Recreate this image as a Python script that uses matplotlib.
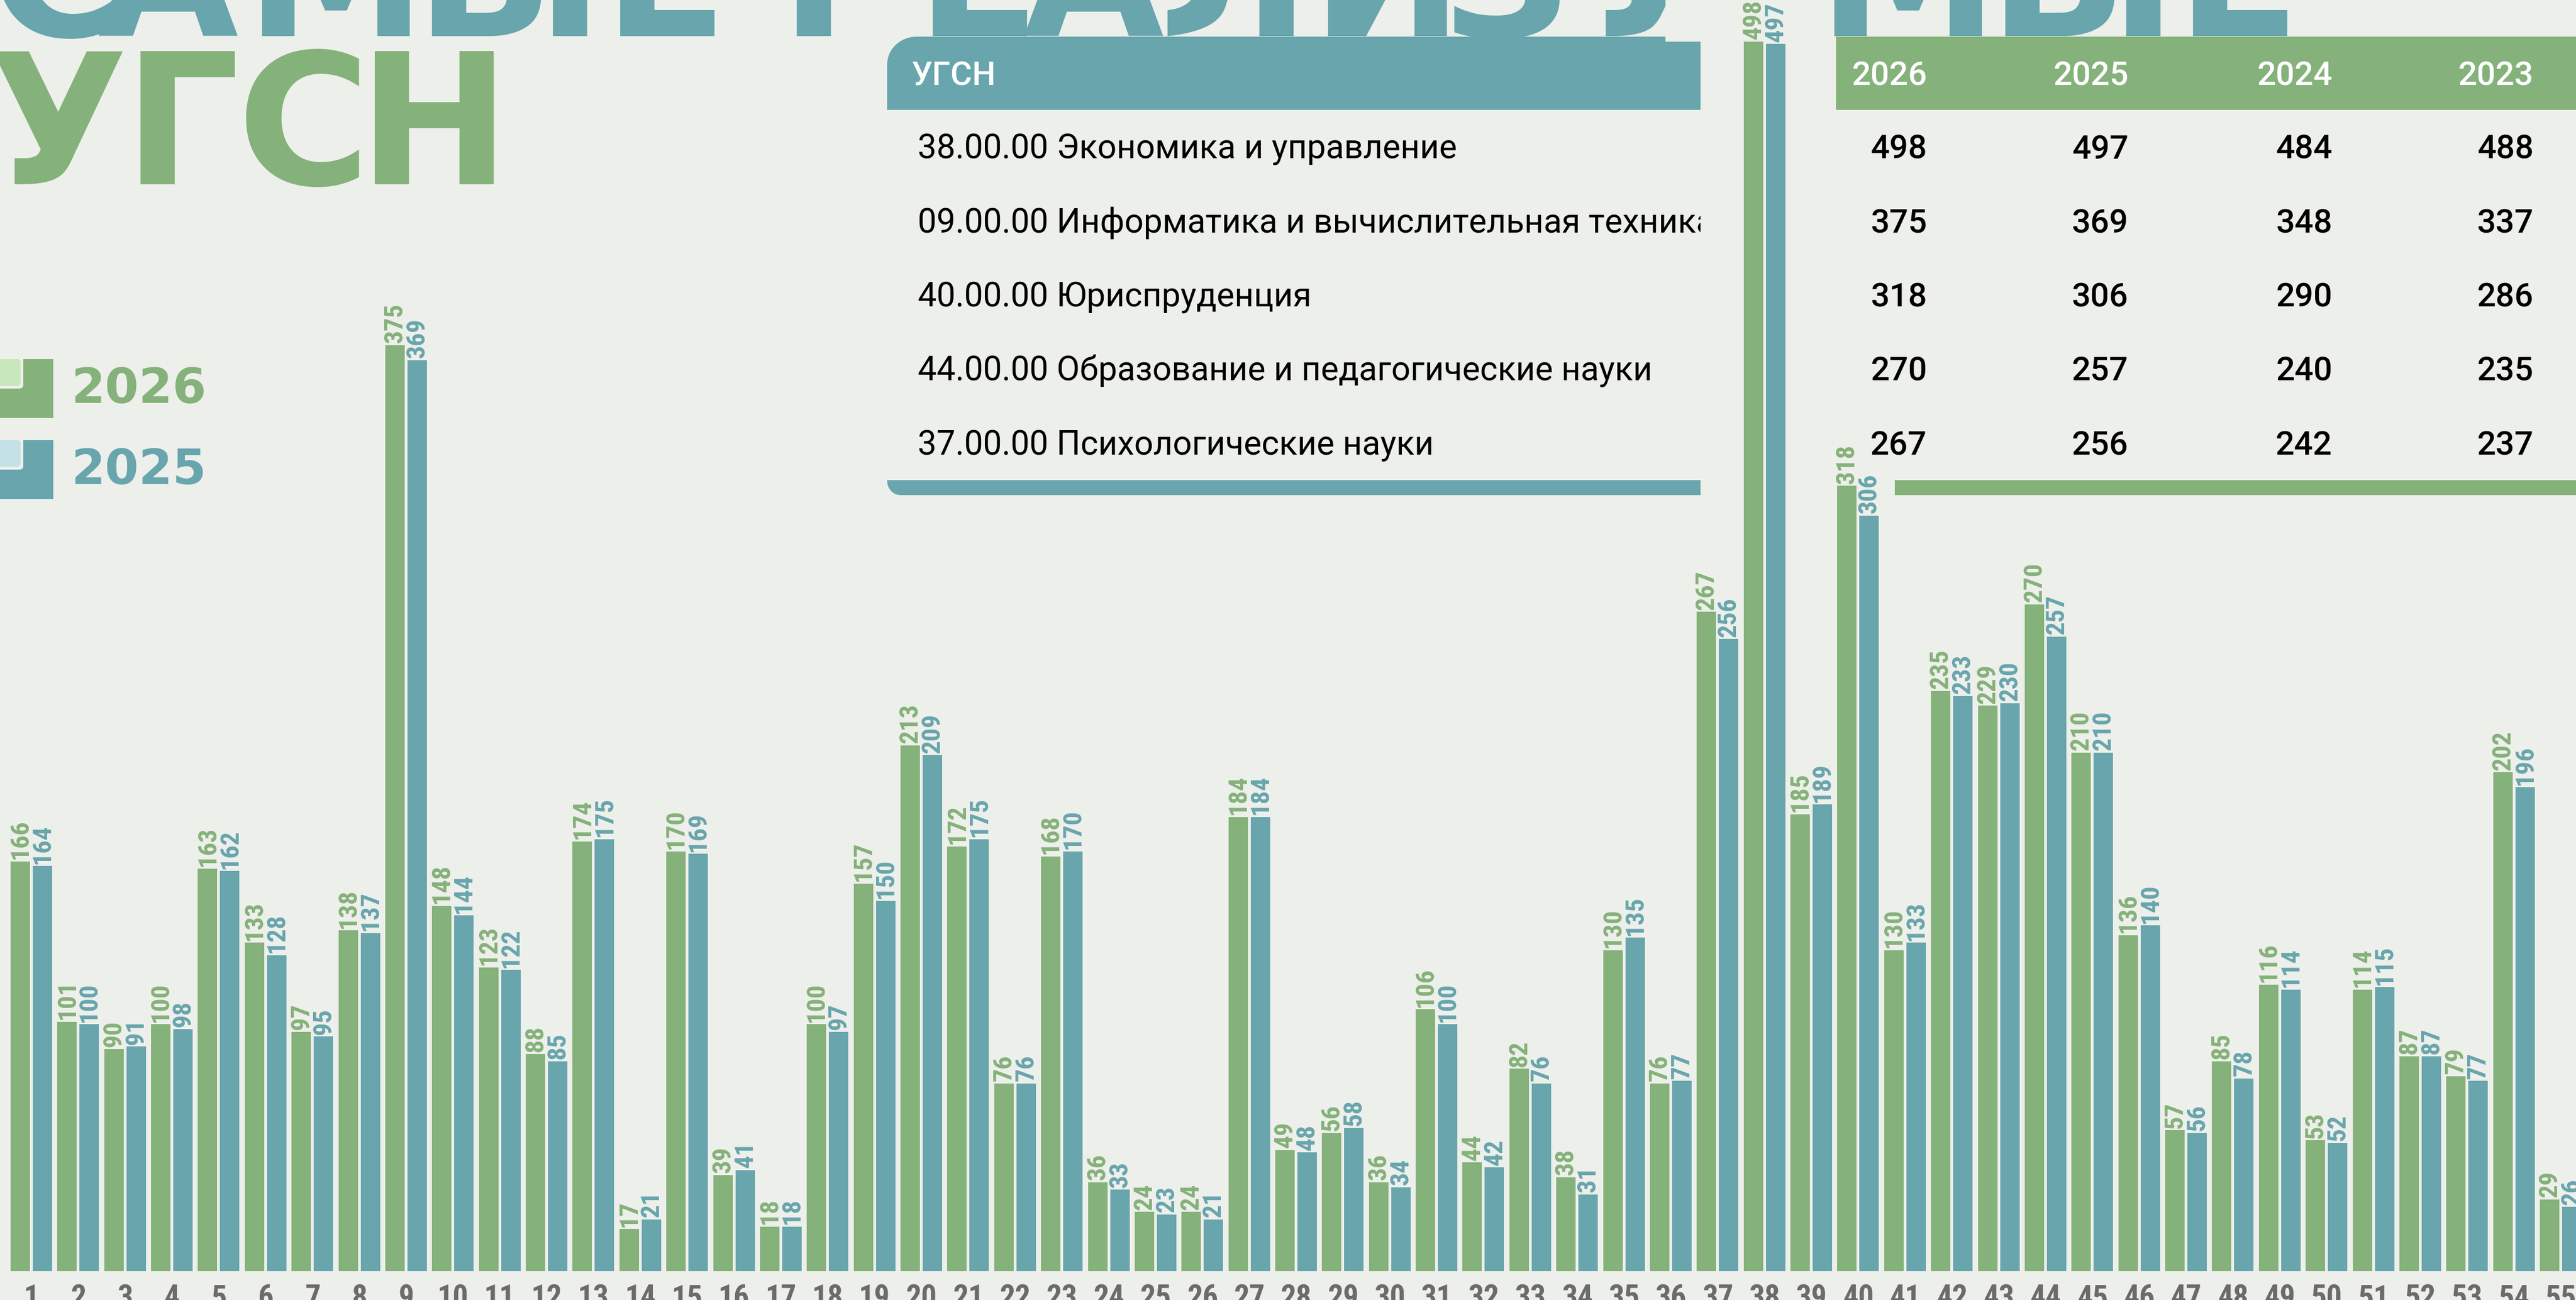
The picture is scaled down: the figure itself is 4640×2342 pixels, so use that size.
import matplotlib
matplotlib.use('Agg')
import matplotlib.pyplot as plt
from matplotlib import font_manager
from matplotlib.patches import Rectangle, FancyBboxPatch, Polygon
from matplotlib.transforms import Bbox, TransformedBbox
import numpy as np

## DATA
groups = list(range(1, 56))
y2026 = [166, 101, 90, 100, 163, 133, 97, 138, 375, 148, 123, 88, 174, 17, 170, 39, 18, 100, 157, 213,
         172, 76, 168, 36, 24, 24, 184, 49, 56, 36, 106, 44, 82, 38, 130, 76, 267, 498, 185, 318,
         130, 235, 229, 270, 210, 136, 57, 85, 116, 53, 114, 87, 79, 202, 29]
y2025 = [164, 100, 91, 98, 162, 128, 95, 137, 369, 144, 122, 85, 175, 21, 169, 41, 18, 97, 150, 209,
         175, 76, 170, 33, 23, 21, 184, 48, 58, 34, 100, 42, 76, 31, 135, 77, 256, 497, 189, 306,
         133, 233, 230, 257, 210, 140, 56, 78, 114, 52, 115, 87, 77, 196, 26]

series_names = ['2026', '2025']

top_ugsn = ['38.00.00 Экономика и управление',
            '09.00.00 Информатика и вычислительная техника',
            '40.00.00 Юриспруденция',
            '44.00.00 Образование и педагогические науки',
            '37.00.00 Психологические науки']
table_years = ['2026', '2025', '2024', '2023']
top_2026 = [498, 375, 318, 270, 267]
top_2025 = [497, 369, 306, 257, 256]
top_2024 = [484, 348, 290, 240, 242]
top_2023 = [488, 337, 286, 235, 237]

title_1 = 'САМЫЕ РЕАЛИЗУЕМЫЕ'
title_2 = 'УГСН'

GREEN = '#85B17A'
TEAL = '#68A5AD'
LGREEN = '#C8E7BB'
LTEAL = '#C3E0E5'
BG = '#EDEFEA'
GREY = '#6B6B6B'

# pick a narrow face for the small numbers if one is installed
installed = {f.name for f in font_manager.fontManager.ttflist}
narrow = None
for name in ['Liberation Sans Narrow', 'Roboto Condensed', 'Open Sans Condensed',
             'DejaVu Sans Condensed', 'Noto Sans Condensed']:
    if name in installed:
        narrow = name
        break
if narrow:
    num_family = [narrow, 'DejaVu Sans']
    lab_size, tick_size = 17, 20
else:
    num_family = ['Roboto', 'DejaVu Sans']
    lab_size, tick_size = 13.5, 16

W, H = 4640, 2342
fig = plt.figure(figsize=(W / 200, H / 200), dpi=200, facecolor=BG)

# overlay in pixel coordinates (y down)
ov = fig.add_axes([0, 0, 1, 1])
ov.set_xlim(0, W)
ov.set_ylim(H, 0)
ov.axis('off')

# bar axes
ax = fig.add_axes([0, 0, 1, 1])
ax.patch.set_alpha(0)
ax.set_xlim(0.3303, 55.326)
ax.set_ylim(-11.69, 514.8)
ax.axis('off')


def rounded_poly(x0, y0, w, h, tl=(0, 0), bl=(0, 0), color='k'):
    pts = []
    if tl[0]:
        rx, ry = tl
        for a in np.linspace(np.pi, 1.5 * np.pi, 16):
            pts.append((x0 + rx + rx * np.cos(a), y0 + ry + ry * np.sin(a)))
    else:
        pts.append((x0, y0))
    pts.append((x0 + w, y0))
    pts.append((x0 + w, y0 + h))
    if bl[0]:
        rx, ry = bl
        for a in np.linspace(0.5 * np.pi, np.pi, 16):
            pts.append((x0 + rx + rx * np.cos(a), y0 + h - ry + ry * np.sin(a)))
    else:
        pts.append((x0, y0 + h))
    ov.add_patch(Polygon(pts, closed=True, facecolor=color, edgecolor='none'))


# title, placed letter by letter
title_font = dict(family='DejaVu Sans', weight='bold', fontsize=118, color=TEAL)
xs1 = [3, 197, 464, 770, 1109, None, 1427, 1672, 1864, 2110, 2384, 2619, 2866, 3100, 3296, 3604, 3942]
for ch, xx in zip(title_1, xs1):
    if xx is None:
        continue
    ov.text(xx - 22, 65, ch, ha='left', va='baseline', **title_font)
ov.add_patch(Rectangle((3000, 0), 290, 75, facecolor=BG, edgecolor='none', zorder=3))

title_font['color'] = GREEN
for ch, xx in zip(title_2, [0, 245, 449, 667]):
    ov.text(xx - 22, 332, ch, ha='left', va='baseline', **title_font)

# legend
for i, (name, col, lcol) in enumerate(zip(series_names, [GREEN, TEAL], [LGREEN, LTEAL])):
    y0 = 647 + 146 * i
    ov.add_patch(Rectangle((0, y0), 96, 106, facecolor=col, edgecolor='none'))
    ov.add_patch(FancyBboxPatch((-30, y0 - 40), 72, 93, boxstyle='round,pad=0,rounding_size=7',
                                facecolor=BG, edgecolor='none'))
    ov.add_patch(FancyBboxPatch((-30, y0), 67, 48, boxstyle='round,pad=0,rounding_size=7',
                                facecolor=lcol, edgecolor='none'))
    ov.text(128, y0 + 55, name, ha='left', va='center', color=col, fontsize=31.5,
            family='DejaVu Sans', weight='bold')

# table
rounded_poly(1598, 66, 1465, 132, tl=(53, 50), color=TEAL)
rounded_poly(1598, 865, 1465, 27, bl=(24, 26), color=TEAL)
ov.add_patch(Rectangle((3307, 66), W - 3307, 132, facecolor=GREEN, edgecolor='none'))
ov.add_patch(Rectangle((3413, 865), W - 3413, 27, facecolor=GREEN, edgecolor='none'))

tfont = dict(family=['Roboto', 'DejaVu Sans'], fontsize=21.5)
ov.text(1641, 153, 'УГСН', ha='left', va='baseline', color='white', weight='medium', **tfont)
col_right = [3471, 3834, 4201, 4564]
for yr, xr in zip(table_years, col_right):
    ov.text(xr, 153, yr, ha='right', va='baseline', color='white', weight='medium', **tfont)

clip_box = TransformedBbox(Bbox([[1598, 0], [3063, H]]), ov.transData)
cols = [top_2026, top_2025, top_2024, top_2023]
for r, name in enumerate(top_ugsn):
    yb = 286 + 133.3 * r
    t = ov.text(1653, yb, name, ha='left', va='baseline', color='black',
                family=['Roboto', 'DejaVu Sans'], fontsize=21.8)
    t.set_clip_on(True)
    t.set_clip_box(clip_box)
    for c, xr in zip(cols, col_right):
        ov.text(xr, yb, str(c[r]), ha='right', va='baseline', color='black',
                weight='medium', **tfont)

# bars
x = np.array(groups, dtype=float)
off, bw = 0.237, 0.415
ax.bar(x - off, y2026, width=bw, color=GREEN, zorder=2)
ax.bar(x + off, y2025, width=bw, color=TEAL, zorder=2)

lfont = dict(family=num_family, weight='bold', fontsize=lab_size)
for xi, v in zip(x - off, y2026):
    ax.annotate(str(v), (xi, v), xytext=(0, 1.3), textcoords='offset points', rotation=90,
                ha='center', va='bottom', color=GREEN, zorder=4, **lfont)
for xi, v in zip(x + off, y2025):
    ax.annotate(str(v), (xi, v), xytext=(0, 1.3), textcoords='offset points', rotation=90,
                ha='center', va='bottom', color=TEAL, zorder=4, **lfont)

for xi, g in zip(x, groups):
    ax.text(xi, -5.2, str(g), ha='center', va='top', color=GREY, fontsize=tick_size,
            family=num_family, weight='bold')

fig.savefig('out.png', dpi=200, facecolor=BG)
